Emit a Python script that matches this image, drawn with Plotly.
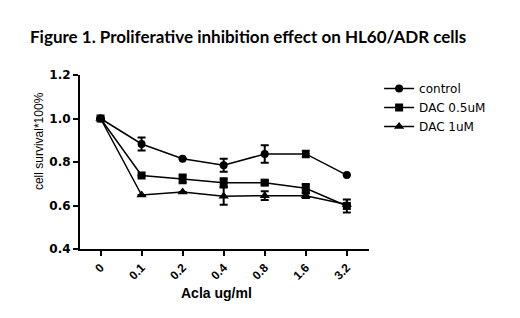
import plotly.graph_objects as go

categories = ["0", "0.1", "0.2", "0.4", "0.8", "1.6", "3.2"]
control = [1.0, 0.883, 0.815, 0.785, 0.837, 0.837, 0.74]
control_err = [0.0, 0.03, 0.0, 0.03, 0.04, 0.015, 0.0]
dac05 = [1.0, 0.738, 0.722, 0.705, 0.705, 0.679, 0.598]
dac05_err = [0.0, 0.0, 0.02, 0.02, 0.01, 0.02, 0.03]
dac1 = [1.0, 0.648, 0.662, 0.643, 0.645, 0.645, 0.605]
dac1_err = [0.0, 0.0, 0.0, 0.04, 0.02, 0.01, 0.0]

series = [
    ("control", control, control_err, "circle", 8),
    ("DAC 0.5uM", dac05, dac05_err, "square", 8),
    ("DAC 1uM", dac1, dac1_err, "triangle-up", 9),
]

fig = go.Figure()
for name, vals, errs, sym, sz in series:
    fig.add_trace(go.Scatter(
        x=categories, y=vals, name=name, mode="lines+markers",
        line=dict(color="black", width=1.5),
        marker=dict(symbol=sym, size=sz, color="black"),
        error_y=dict(type="data", array=errs, visible=True, color="black", thickness=2, width=4),
    ))

fig.update_layout(
    width=520, height=318,
    paper_bgcolor="white", plot_bgcolor="white",
    margin=dict(l=72, r=159, t=67, b=77),
    title=dict(text="Figure 1. Proliferative inhibition effect on HL60/ADR cells",
               font=dict(family="Lato", size=17, color="black", weight="bold"),
               x=22/520, xanchor="left", y=1 - 29/318, yanchor="middle"),
    showlegend=True,
    legend=dict(x=1.035, y=1 + 1/174, xanchor="left", yanchor="top",
                font=dict(family="DejaVu Sans", size=12, color="black"),
                bgcolor="rgba(0,0,0,0)", tracegroupgap=0, itemwidth=30),
    font=dict(family="Liberation Sans", color="black"),
    annotations=[
        dict(text="cell survival*100%", xref="paper", yref="paper", x=-0.142, y=0.62,
             xanchor="center", yanchor="middle", textangle=-90, showarrow=False,
             font=dict(family="Liberation Sans", size=12, color="black")),
        dict(text="Acla ug/ml", xref="paper", yref="paper", x=(208 - 72) / 289, y=-(285 - 241) / 174,
             xanchor="center", yanchor="middle", showarrow=False,
             font=dict(family="Liberation Sans", size=14, color="black", weight="bold")),
    ],
)
fig.update_xaxes(
    type="category", range=[-0.5, 6.54],
    showline=True, linecolor="black", linewidth=2,
    ticks="outside", ticklen=5, tickwidth=2, tickcolor="black",
    tickangle=-45, tickfont=dict(family="Liberation Sans", size=12, color="black", weight="bold"),
    showgrid=False, zeroline=False,
)
fig.update_yaxes(
    range=[0.4, 1.2], tickvals=[0.4, 0.6, 0.8, 1.0, 1.2], ticktext=["0.4", "0.6", "0.8", "1.0", "1.2"],
    showline=True, linecolor="black", linewidth=2,
    ticks="outside", ticklen=5, tickwidth=2, tickcolor="black",
    tickfont=dict(family="DejaVu Sans", size=12, color="black", weight="bold"),
    showgrid=False, zeroline=False,
)
fig.write_html("out.html")
